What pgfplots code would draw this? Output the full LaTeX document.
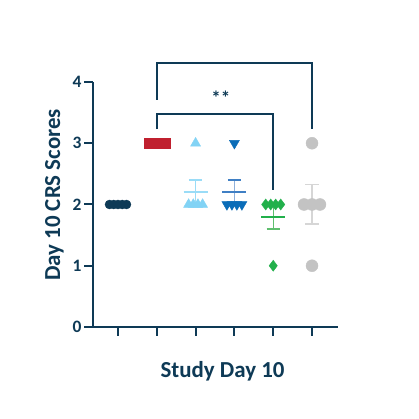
\documentclass[border=0pt]{standalone}
\usepackage{fontspec}
\setmainfont{Carlito}
\usepackage{pgfplots}
\pgfplotsset{compat=1.18}
\definecolor{navy}{HTML}{0E3A56}
\definecolor{cred}{HTML}{C0202F}
\definecolor{lblue}{HTML}{82D3F5}
\definecolor{lbluel}{HTML}{9ADCF7}
\definecolor{mblue}{HTML}{0B6DB8}
\definecolor{mbluel}{HTML}{3F7FC4}
\definecolor{mbluee}{HTML}{8FB0DB}
\definecolor{cgreen}{HTML}{22B04B}
\definecolor{cgreenl}{HTML}{5FBF6F}
\definecolor{cgray}{HTML}{C3C3C3}
\definecolor{cgrayl}{HTML}{D6D6D6}
\begin{document}
\begin{tikzpicture}
\path[use as bounding box, fill=white] (0,0) rectangle (419bp,419bp);
\begin{axis}[
  at={(93bp,92bp)}, anchor=south west,
  scale only axis, width=245bp, height=245bp,
  xmin=0.356, xmax=6.67, ymin=0, ymax=4,
  axis x line*=bottom, axis y line*=left,
  axis line style={navy, line width=2.2bp},
  xtick={1,2,3,4,5,6}, xticklabels={},
  ytick={0,1,2,3,4},
  tick style={navy, line width=2bp},
  tick align=outside, major tick length=9bp,
  /pgf/number format/assume math mode=true,
  yticklabel style={font=\bfseries\fontsize{17.5}{19}\selectfont, text=navy, xshift=1bp},
  clip=false,
]
% group 1
\addplot[only marks, mark=*, mark size=4.5bp, color=navy] coordinates {
 (0.781,2) (0.890,2) (1,2) (1.110,2) (1.219,2)};
% group 2
\addplot[only marks, mark=square*, mark size=5bp, color=cred] coordinates {
 (1.794,3) (1.897,3) (2,3) (2.103,3) (2.206,3)};
% group 3
\addplot[only marks, mark=triangle*, mark size=5.8bp, color=lblue] coordinates {
 (3,3) (2.82,2) (2.94,2) (3.06,2) (3.18,2)};
% group 4
\addplot[only marks, mark=triangle*, mark size=5.8bp, mark options={rotate=180}, color=mblue] coordinates {
 (4,3) (3.807,2) (3.936,2) (4.064,2) (4.193,2)};
% group 5
\addplot[only marks, mark=diamond*, mark size=5.5bp, color=cgreen] coordinates {
 (5,1) (4.807,2) (4.936,2) (5.064,2) (5.193,2)};
% group 6
\addplot[only marks, mark=*, mark size=6bp, color=cgray] coordinates {
 (6,3) (6,1) (5.794,2) (6,2) (6.206,2)};
% mean lines and SEM bars
% group 3
\addplot[lbluel, line width=1.2bp] coordinates {(3,2.0) (3,2.4)};
\addplot[lbluel, line width=1.2bp] coordinates {(2.83,2.4) (3.17,2.4)};
\addplot[lbluel, line width=2bp] coordinates {(2.69,2.2) (3.31,2.2)};
% group 4
\addplot[mbluee, line width=1.2bp] coordinates {(4,2.0) (4,2.4)};
\addplot[mbluel, line width=1.2bp] coordinates {(3.83,2.4) (4.17,2.4)};
\addplot[mbluel, line width=2bp] coordinates {(3.69,2.2) (4.31,2.2)};
% group 5
\addplot[cgreenl, line width=1.2bp] coordinates {(5,1.6) (5,2.0)};
\addplot[cgreenl, line width=1.2bp] coordinates {(4.83,1.6) (5.17,1.6)};
\addplot[cgreen, line width=2bp] coordinates {(4.69,1.8) (5.31,1.8)};
% group 6
\addplot[cgrayl, line width=1.2bp] coordinates {(6,1.68) (6,2.32)};
\addplot[cgrayl, line width=1.2bp] coordinates {(5.83,1.68) (6.17,1.68)};
\addplot[cgrayl, line width=1.2bp] coordinates {(5.83,2.32) (6.17,2.32)};
% brackets
\addplot[navy, line width=2bp] coordinates {(2,3.71) (2,4.31) (6,4.31) (6,3.23)};
\addplot[navy, line width=2bp] coordinates {(2,3.23) (2,3.48) (5,3.48) (5,2.24)};
\node[text=navy, font=\bfseries\fontsize{19}{20}\selectfont] at (axis cs:3.65,3.75) {**};
\end{axis}
\node[rotate=90, anchor=base, text=navy, font=\bfseries\fontsize{23}{26}\selectfont] at (60bp,224bp) {Day 10 CRS Scores};
\node[anchor=base, text=navy, font=\bfseries\fontsize{23}{26}\selectfont] at (222.5bp,41.7bp) {Study Day 10};
\end{tikzpicture}
\end{document}
